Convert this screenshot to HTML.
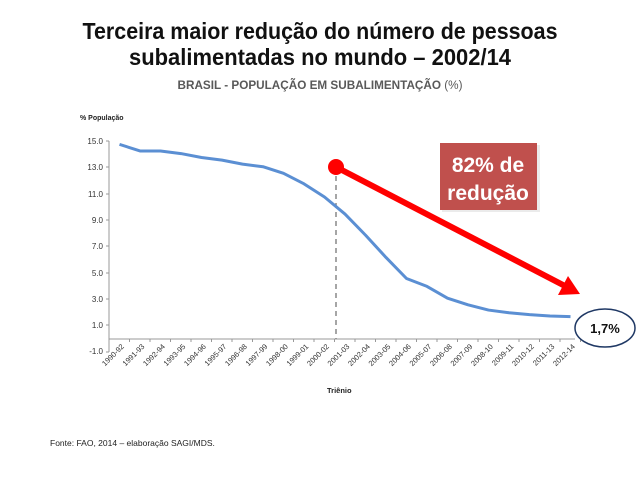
<!DOCTYPE html>
<html><head><meta charset="utf-8"><style>body{margin:0;background:#fff}svg{display:block}</style></head><body>
<svg width="640" height="480" xmlns="http://www.w3.org/2000/svg" font-family="Liberation Sans, sans-serif">
<text x="320" y="39" text-anchor="middle" font-size="23" font-weight="bold" textLength="475" lengthAdjust="spacingAndGlyphs" fill="#111">Terceira maior redução do número de pessoas</text>
<text x="320" y="65" text-anchor="middle" font-size="23" font-weight="bold" textLength="382" lengthAdjust="spacingAndGlyphs" fill="#111">subalimentadas no mundo – 2002/14</text>
<text x="320" y="89" text-anchor="middle" font-size="11.5" font-weight="bold" textLength="285" lengthAdjust="spacingAndGlyphs" fill="#595959">BRASIL - POPULAÇÃO EM SUBALIMENTAÇÃO <tspan font-weight="normal">(%)</tspan></text>
<text x="80" y="120" font-size="7" font-weight="bold" fill="#222">% População</text>
<g font-size="8" fill="#333" text-anchor="end">
<text x="103" y="144">15.0</text><text x="103" y="170">13.0</text><text x="103" y="197">11.0</text><text x="103" y="223">9.0</text><text x="103" y="249">7.0</text><text x="103" y="276">5.0</text><text x="103" y="302">3.0</text><text x="103" y="328">1.0</text><text x="103" y="354">-1.0</text>
</g>
<g stroke="#999" stroke-width="1">
<line x1="109" y1="141" x2="109" y2="352"/><line x1="109" y1="339" x2="575" y2="339"/>
<line x1="106" y1="141" x2="109" y2="141"/><line x1="106" y1="167" x2="109" y2="167"/><line x1="106" y1="194" x2="109" y2="194"/><line x1="106" y1="220" x2="109" y2="220"/><line x1="106" y1="246" x2="109" y2="246"/><line x1="106" y1="273" x2="109" y2="273"/><line x1="106" y1="299" x2="109" y2="299"/><line x1="106" y1="325" x2="109" y2="325"/><line x1="106" y1="352" x2="109" y2="352"/>
</g>
<g id="ticks" stroke="#999"></g>
<g id="labs" font-size="7.5" fill="#333"></g>
<line x1="336" y1="167" x2="336" y2="339" stroke="#888" stroke-width="1.5" stroke-dasharray="5,4"/>
<polyline id="ln" fill="none" stroke="#5b8fd3" stroke-width="3" stroke-linejoin="round"/>
<text x="327" y="393" font-size="7.5" font-weight="bold" fill="#222">Triênio</text>
<line x1="336" y1="167" x2="565" y2="286" stroke="#f00" stroke-width="6"/>
<polygon points="580,294 558,295 568,276" fill="#f00"/>
<circle cx="336" cy="167" r="8" fill="#f00"/>
<rect x="442" y="145" width="98" height="67" fill="#ddd" opacity="0.6"/>
<rect x="440" y="143" width="97" height="67" fill="#c0504d"/>
<text x="488" y="172" text-anchor="middle" font-size="21" font-weight="bold" fill="#fff">82% de</text>
<text x="488" y="200" text-anchor="middle" font-size="21" font-weight="bold" fill="#fff">redução</text>
<ellipse cx="605" cy="328" rx="30" ry="19" fill="#fff" stroke="#1f3864" stroke-width="1.5"/>
<text x="605" y="333" text-anchor="middle" font-size="13" font-weight="bold" fill="#111">1,7%</text>
<text x="50" y="446" font-size="8.5" fill="#222">Fonte: FAO, 2014 – elaboração  SAGI/MDS.</text>
</svg>
<script>
var v=[14.8,14.3,14.3,14.1,13.8,13.6,13.3,13.1,12.6,11.8,10.8,9.5,7.9,6.2,4.6,4.0,3.1,2.6,2.2,2.0,1.85,1.75,1.7];
var pts=[],t='',l='';
for(var i=0;i<23;i++){var x=119.5+20.5*i;pts.push(x+','+(339-13.15*v[i]));
var y0=1990+i,a=String(y0),b=String((y0+2)%100).padStart(2,'0');
l+='<text transform="translate('+(x+5)+',347) rotate(-45)" text-anchor="end">'+a+'-'+b+'</text>';}
for(var i=0;i<=23;i++){var x=109+20.5*i;t+='<line x1="'+x+'" y1="339" x2="'+x+'" y2="342"/>';}
document.getElementById('ln').setAttribute('points',pts.join(' '));
document.getElementById('ticks').innerHTML=t;document.getElementById('labs').innerHTML=l;
</script>
</body></html>
